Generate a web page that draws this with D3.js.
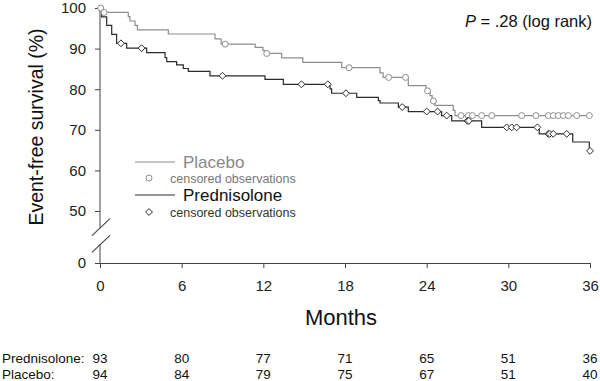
<!DOCTYPE html>
<html>
<head>
<meta charset="utf-8">
<script src="https://cdn.jsdelivr.net/npm/d3@7"></script>
<style>
  body { margin: 0; background: #fff; }
  svg { display: block; font-family: Arial, 'Liberation Sans', sans-serif; }
</style>
</head>
<body>
<svg id="chart"></svg>
<script>
// x ticks (months) and y ticks (%)
const months = [0, 6, 12, 18, 24, 30, 36];
const yTicks = [0, 50, 60, 70, 80, 90, 100];

// Kaplan-Meier steps: [month, survival %]
const placeboSteps = [
  [0, 100], [0.25, 98.9], [2.08, 97.9], [2.2, 96.8], [2.57, 95.7], [2.75, 94.6],
  [5.02, 93.6], [8.45, 92.4], [8.9, 91.1], [11.4, 90.3], [11.97, 89.5], [12.1, 88.8],
  [13.35, 87.7], [14.9, 86.6], [17.76, 85.3], [20.57, 84.0], [20.8, 82.9],
  [22.65, 80.9], [23.95, 79.6], [24.25, 78.4], [24.4, 77.1], [24.6, 76.0],
  [25.95, 74.8], [26.08, 73.5]
];
const placeboCensored = [
  0.05, 0.3, 9.2, 12.25, 18.3, 21.2, 22.45, 24.07, 24.5, 26.52, 27.06, 27.35,
  28.04, 28.78, 30.98, 32.03, 32.94, 33.3, 33.67, 34.04, 34.41, 35.02, 35.95
];

const prednisoloneSteps = [
  [0, 100], [0.12, 97.8], [0.49, 95.7], [0.86, 93.5], [1.22, 91.3], [1.96, 90.1],
  [3.43, 89.0], [4.78, 87.8], [4.9, 86.8], [5.63, 86.0], [6.12, 85.1], [6.49, 84.4],
  [8.08, 83.3], [12.12, 82.4], [13.47, 81.2], [16.9, 80.1], [17.02, 79.0],
  [18.86, 78.0], [20.45, 77.2], [20.57, 76.6], [21.92, 75.6], [22.65, 74.5],
  [25.1, 73.5], [25.84, 72.2], [28.04, 70.6], [32.27, 69.0], [34.73, 67.0],
  [35.95, 64.8]
];
const prednisoloneCensored = [
  1.54, 3.06, 9.0, 14.8, 16.73, 18.07, 22.2, 24.0, 24.8, 25.47, 27.0, 27.1,
  29.88, 30.25, 30.61, 32.13, 32.94, 33.05, 33.3, 34.29, 36.0
];

// numbers at risk
const atRiskPrednisolone = [93, 80, 77, 71, 65, 51, 36];
const atRiskPlacebo = [94, 84, 79, 75, 67, 51, 40];

const width = 600, height = 381;
const plotLeft = 100, plotRight = 590, plotTop = 8, plotBottom = 263, breakY = 211;
const grey = '#8e8e8e', dark = '#2a2a2a', axisCol = '#444';

const svg = d3.select('#chart').attr('width', width).attr('height', height);

const x = d3.scaleLinear().domain([0, 36]).range([plotLeft, plotRight]);
// broken axis: 0..50 squeezed into a short stub below the break
const y = d3.scaleLinear().domain([0, 50, 100]).range([plotBottom, breakY, plotTop]);

// X axis
const xAxis = svg.append('g')
  .attr('transform', `translate(0,${plotBottom})`)
  .call(d3.axisBottom(x).tickValues(months).tickSize(5).tickPadding(12).tickSizeOuter(0));
xAxis.select('.domain').attr('stroke', axisCol);
xAxis.selectAll('.tick line').attr('stroke', axisCol);
xAxis.selectAll('text').attr('font-size', '15px').attr('fill', '#222');
xAxis.attr('font-family', null);

// Y axis
const yAxis = svg.append('g')
  .attr('transform', `translate(${plotLeft},0)`)
  .call(d3.axisLeft(y).tickValues(yTicks).tickSize(5).tickPadding(9).tickSizeOuter(0));
yAxis.select('.domain').remove();
yAxis.selectAll('.tick line').attr('stroke', axisCol);
yAxis.selectAll('text').attr('font-size', '15px').attr('fill', '#222');
yAxis.attr('font-family', null);

// y axis line with a gap and break marks
const gapTop = 34, gapBottom = 18;
svg.append('line').attr('x1', plotLeft).attr('x2', plotLeft).attr('y1', y(100)).attr('y2', y(gapTop))
  .attr('stroke', axisCol);
svg.append('line').attr('x1', plotLeft).attr('x2', plotLeft).attr('y1', y(gapBottom)).attr('y2', y(0))
  .attr('stroke', axisCol);
[gapTop, gapBottom].forEach(v => {
  svg.append('line')
    .attr('x1', plotLeft - 8).attr('y1', y(v) + 8)
    .attr('x2', plotLeft + 10).attr('y2', y(v) - 9)
    .attr('stroke', axisCol).attr('stroke-width', 1.1);
});

// survival step at time t
function valueAt(steps, t) {
  let v = steps[0][1];
  for (const s of steps) { if (s[0] <= t) v = s[1]; }
  return v;
}

const line = d3.line().x(d => x(d[0])).y(d => y(d[1])).curve(d3.curveStepAfter);

function drawCurve(steps, color) {
  const pts = steps.concat([[36, steps[steps.length - 1][1]]]);
  svg.append('path').datum(pts)
    .attr('d', line)
    .attr('fill', 'none')
    .attr('stroke', color)
    .attr('stroke-width', 1.2);
}

drawCurve(placeboSteps, grey);
drawCurve(prednisoloneSteps, dark);

const diamond = d3.symbol().type(d3.symbolDiamond2).size(30);

svg.append('g').selectAll('circle')
  .data(placeboCensored)
  .join('circle')
  .attr('cx', d => x(d))
  .attr('cy', d => y(valueAt(placeboSteps, d)))
  .attr('r', 3)
  .attr('fill', '#fff')
  .attr('stroke', grey)
  .attr('stroke-width', 1);

svg.append('g').selectAll('path')
  .data(prednisoloneCensored)
  .join('path')
  .attr('d', diamond)
  .attr('transform', d => `translate(${x(d)},${y(valueAt(prednisoloneSteps, d))})`)
  .attr('fill', '#fff')
  .attr('stroke', dark)
  .attr('stroke-width', 1);

// Legend
const lg = svg.append('g');
lg.append('line').attr('x1', 135).attr('x2', 175).attr('y1', 162).attr('y2', 162)
  .attr('stroke', grey).attr('stroke-width', 1.2);
lg.append('text').attr('x', 183).attr('y', 168).attr('font-size', '17px').attr('fill', '#888')
  .text('Placebo');
lg.append('circle').attr('cx', 149).attr('cy', 178).attr('r', 3)
  .attr('fill', '#fff').attr('stroke', grey);
lg.append('text').attr('x', 170).attr('y', 182.5).attr('font-size', '12.5px').attr('fill', '#777')
  .text('censored observations');
lg.append('line').attr('x1', 135).attr('x2', 175).attr('y1', 195).attr('y2', 195)
  .attr('stroke', dark).attr('stroke-width', 1.2);
lg.append('text').attr('x', 183).attr('y', 201).attr('font-size', '17px').attr('fill', '#111')
  .text('Prednisolone');
lg.append('path').attr('d', diamond).attr('transform', 'translate(149,212)')
  .attr('fill', '#fff').attr('stroke', dark);
lg.append('text').attr('x', 170).attr('y', 216.5).attr('font-size', '12.5px').attr('fill', '#333')
  .text('censored observations');

// P value
const pv = svg.append('text').attr('x', 592).attr('y', 27).attr('text-anchor', 'end')
  .attr('font-size', '16.5px').attr('fill', '#111');
pv.append('tspan').attr('font-style', 'italic').text('P');
pv.append('tspan').text(' = .28 (log rank)');

// Axis titles
svg.append('text')
  .attr('transform', 'translate(43,127) rotate(-90)')
  .attr('text-anchor', 'middle')
  .attr('font-size', '19.5px').attr('fill', '#111')
  .text('Event-free survival (%)');

svg.append('text')
  .attr('x', (plotLeft + plotRight) / 2 - 4).attr('y', 325)
  .attr('text-anchor', 'middle')
  .attr('font-size', '22px').attr('fill', '#111')
  .text('Months');

// Numbers at risk
const rows = [
  { label: 'Prednisolone:', values: atRiskPrednisolone, y: 363 },
  { label: 'Placebo:', values: atRiskPlacebo, y: 379 }
];
rows.forEach(r => {
  svg.append('text').attr('x', 2).attr('y', r.y).attr('font-size', '13.5px').attr('fill', '#111')
    .text(r.label);
  svg.append('g').selectAll('text')
    .data(r.values)
    .join('text')
    .attr('x', (d, i) => x(months[i]))
    .attr('y', r.y)
    .attr('text-anchor', 'middle')
    .attr('font-size', '13.5px')
    .attr('fill', '#111')
    .text(d => d);
});
</script>
</body>
</html>
